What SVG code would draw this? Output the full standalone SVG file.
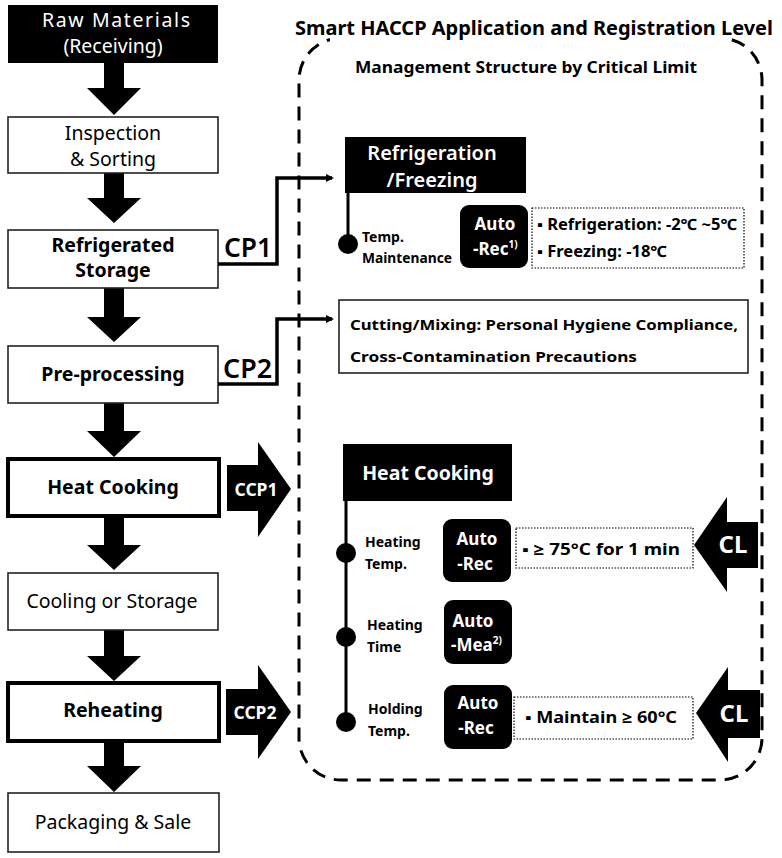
<svg xmlns="http://www.w3.org/2000/svg" width="782" height="858" viewBox="0 0 782 858">
<style>
text{font-family:"Noto Sans","Open Sans","Liberation Sans",sans-serif;}
.box{fill:#fff;stroke:#222;stroke-width:1.6;}
.tbox{fill:#fff;stroke:#000;stroke-width:4;}
.lbl{font-size:19.5px;fill:#000;text-anchor:middle;}
.b{font-weight:bold;}
.w{fill:#fff;}
.blk{fill:#000;}
.conn{fill:none;stroke:#000;stroke-width:3.5;}
.dot{fill:none;stroke:#000;stroke-width:1.2;stroke-dasharray:1.5 1.5;}
.sm{font-size:14px;font-weight:bold;fill:#000;}
.auto{font-size:17px;font-weight:bold;fill:#fff;text-anchor:middle;}
.crit{font-size:15.5px;font-weight:bold;fill:#000;}
.cp{font-size:27px;font-weight:600;fill:#000;}
</style>
<defs>
<marker id="ah" markerWidth="8" markerHeight="8" refX="6" refY="4" orient="auto" markerUnits="userSpaceOnUse" viewBox="0 0 8 8"><path d="M0,0 L8,4 L0,8 Z" fill="#000"/></marker>
</defs>
<rect width="782" height="858" fill="#fff"/>

<!-- dashed region -->
<g id="region">
<rect x="299" y="38" width="463" height="742" rx="42" ry="42" fill="none" stroke="#000" stroke-width="3" stroke-dasharray="14 9"/>
<rect x="330" y="12" width="400" height="34" fill="#fff"/>
<text x="295" y="35" font-size="20" font-weight="bold" textLength="478" lengthAdjust="spacingAndGlyphs">Smart HACCP Application and Registration Level</text>
<text x="355" y="73" font-size="16" font-weight="bold" textLength="342" lengthAdjust="spacingAndGlyphs">Management Structure by Critical Limit</text>
</g>

<!-- left column flow arrows -->
<g id="flow-arrows" class="blk">
<path d="M104,63 H124 V88 H141 L114,115 L87,88 H104 Z"/>
<path d="M104,173 H124 V198 H141 L114,223 L87,198 H104 Z"/>
<path d="M104,288 H124 V317 H141 L114,342 L87,317 H104 Z"/>
<path d="M104,403 H124 V431 H141 L114,457 L87,431 H104 Z"/>
<path d="M104,517 H124 V545 H141 L114,570 L87,545 H104 Z"/>
<path d="M104,630 H124 V656 H141 L114,681 L87,656 H104 Z"/>
<path d="M104,742 H124 V766 H141 L114,792 L87,766 H104 Z"/>
</g>

<g id="raw">
<rect x="8" y="5" width="210" height="58" fill="#000"/>
<text class="lbl w" x="116" y="27" font-size="21" textLength="148" lengthAdjust="spacing">Raw Materials</text>
<text class="lbl w" x="113" y="53" font-size="21">(Receiving)</text>
</g>
<g id="inspection">
<rect class="box" x="8" y="117" width="210" height="56"/>
<text class="lbl" x="113" y="140" font-size="20">Inspection</text>
<text class="lbl" x="113" y="166" font-size="20">&amp; Sorting</text>
</g>
<g id="refrig-storage">
<rect class="box" x="8" y="230" width="210" height="58"/>
<text class="lbl b" x="113" y="252">Refrigerated</text>
<text class="lbl b" x="113" y="277">Storage</text>
</g>
<g id="preprocessing">
<rect class="box" x="8" y="346" width="210" height="57"/>
<text class="lbl b" x="113" y="381">Pre-processing</text>
</g>
<g id="heat-cooking">
<rect class="tbox" x="8" y="459" width="211" height="57"/>
<text class="lbl b" x="113" y="494" font-size="20">Heat Cooking</text>
</g>
<g id="cooling">
<rect class="box" x="8" y="573" width="210" height="57"/>
<text class="lbl" x="112" y="608" font-size="21">Cooling or Storage</text>
</g>
<g id="reheating">
<rect class="tbox" x="8" y="683" width="211" height="58"/>
<text class="lbl b" x="113" y="717" font-size="20">Reheating</text>
</g>
<g id="packaging">
<rect class="box" x="8" y="793" width="211" height="59"/>
<text class="lbl" x="113" y="829" font-size="20.5">Packaging &amp; Sale</text>
</g>

<!-- connectors -->
<g id="connectors">
<path class="conn" d="M218,264 H277 V178 H332" marker-end="url(#ah)"/>
<text class="cp" x="224" y="257" textLength="48" lengthAdjust="spacingAndGlyphs">CP1</text>
<path class="conn" d="M218,384 H277 V319 H332" marker-end="url(#ah)"/>
<text class="cp" x="223" y="378" textLength="49" lengthAdjust="spacingAndGlyphs">CP2</text>
<g id="ccp1">
<path class="blk" d="M227,465 H258 V442 L291,489 L258,537 V511 H227 Z"/>
<text x="256" y="496" font-size="17.5" font-weight="bold" fill="#fff" text-anchor="middle">CCP1</text>
</g>
<g id="ccp2">
<path class="blk" d="M226,689 H258 V665 L291,712 L258,759 V735 H226 Z"/>
<text x="255" y="719" font-size="17.5" font-weight="bold" fill="#fff" text-anchor="middle">CCP2</text>
</g>
<g id="cl1">
<path class="blk" d="M758,522 V568 H727 V592 L694,545 L727,497 V522 Z"/>
<text x="733" y="553" font-size="24" font-weight="bold" fill="#fff" text-anchor="middle">CL</text>
</g>
<g id="cl2">
<path class="blk" d="M760,690 V738 H728 V762 L696,713 L728,667 V690 Z"/>
<text x="734" y="722" font-size="24" font-weight="bold" fill="#fff" text-anchor="middle">CL</text>
</g>
<line x1="348" y1="193" x2="348" y2="243" stroke="#000" stroke-width="3"/>
<line x1="346" y1="501" x2="346" y2="722" stroke="#000" stroke-width="3"/>
</g>

<!-- Refrigeration / Freezing -->
<g id="refrig-freezing">
<rect x="345" y="137" width="181" height="56" fill="#000"/>
<text x="432" y="160" font-size="20" font-weight="600" fill="#fff" text-anchor="middle">Refrigeration</text>
<text x="432" y="187" font-size="20" font-weight="600" fill="#fff" text-anchor="middle">/Freezing</text>
</g>
<g id="temp-maint">
<circle cx="348" cy="244" r="10" fill="#000"/>
<text class="sm" x="362" y="242">Temp.</text>
<text class="sm" x="362" y="263" textLength="90" lengthAdjust="spacingAndGlyphs">Maintenance</text>
</g>
<g id="autorec1">
<rect x="460" y="205" width="68" height="63" rx="9" fill="#000"/>
<text class="auto" x="495" y="230">Auto</text>
<text x="473" y="255" font-size="17" font-weight="bold" fill="#fff">-Rec<tspan font-size="10" dy="-7">1)</tspan></text>
</g>
<g id="cl-refrig">
<rect class="dot" x="532" y="208" width="212" height="60"/>
<text class="crit" x="537" y="230" textLength="200" lengthAdjust="spacingAndGlyphs">▪ Refrigeration:  -2℃ ~5℃</text>
<text class="crit" x="537" y="257" textLength="130" lengthAdjust="spacingAndGlyphs">▪ Freezing:  -18℃</text>
</g>

<!-- Cutting / Mixing -->
<g id="cutting">
<rect x="339" y="300" width="409" height="73" fill="#fff" stroke="#222" stroke-width="1.6"/>
<text x="350" y="330" font-size="15" font-weight="bold" textLength="388" lengthAdjust="spacingAndGlyphs">Cutting/Mixing: Personal Hygiene Compliance,</text>
<text x="350" y="362" font-size="15" font-weight="bold" textLength="287" lengthAdjust="spacingAndGlyphs">Cross-Contamination Precautions</text>
</g>

<!-- Heat cooking detail -->
<g id="heat-cooking-detail">
<rect x="343" y="444" width="169" height="57" fill="#000"/>
<text x="428" y="480" font-size="19.5" font-weight="bold" fill="#fff" text-anchor="middle">Heat Cooking</text>
</g>
<g id="heating-temp">
<circle cx="346" cy="553" r="10" fill="#000"/>
<text class="sm" x="365" y="547">Heating</text>
<text class="sm" x="365" y="569">Temp.</text>
<rect x="443" y="519" width="68" height="63" rx="9" fill="#000"/>
<text class="auto" x="477" y="545">Auto</text>
<text class="auto" x="475" y="570">-Rec</text>
<rect class="dot" x="516" y="528" width="177" height="40"/>
<text class="crit" x="522" y="555" font-size="17.5" textLength="158" lengthAdjust="spacingAndGlyphs">▪ ≥ 75°C for 1 min</text>
</g>
<g id="heating-time">
<circle cx="346" cy="637" r="10" fill="#000"/>
<text class="sm" x="367" y="630">Heating</text>
<text class="sm" x="367" y="652">Time</text>
<rect x="444" y="600" width="68" height="64" rx="9" fill="#000"/>
<text class="auto" x="473" y="627">Auto</text>
<text x="451" y="651" font-size="17" font-weight="bold" fill="#fff">-Mea<tspan font-size="10" dy="-7">2)</tspan></text>
</g>
<g id="holding-temp">
<circle cx="346" cy="722" r="10" fill="#000"/>
<text class="sm" x="368" y="714">Holding</text>
<text class="sm" x="368" y="736">Temp.</text>
<rect x="444" y="685" width="68" height="64" rx="9" fill="#000"/>
<text class="auto" x="478" y="709">Auto</text>
<text class="auto" x="476" y="734">-Rec</text>
<rect class="dot" x="514" y="697" width="179" height="42"/>
<text class="crit" x="525" y="723" font-size="17.5" textLength="152" lengthAdjust="spacingAndGlyphs">▪ Maintain ≥ 60°C</text>
</g>
</svg>
